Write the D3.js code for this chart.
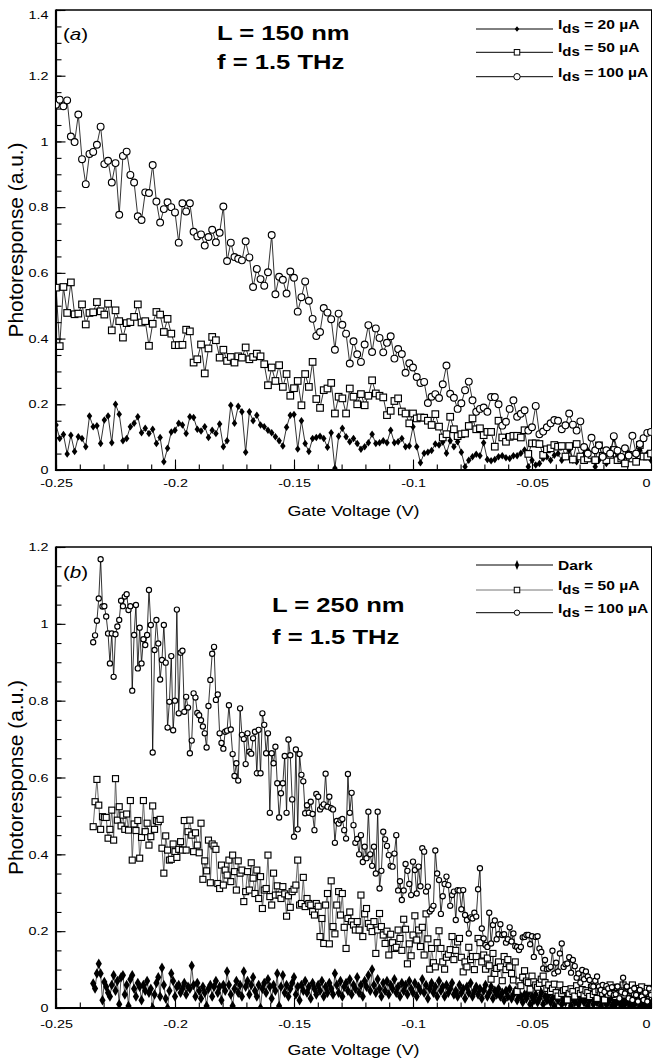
<!DOCTYPE html>
<html><head><meta charset="utf-8">
<script src="https://cdn.jsdelivr.net/npm/d3@7"></script>
<style>
html,body{margin:0;padding:0;background:#fff;}
svg{display:block;font-family:"Liberation Sans",Arial,Helvetica,sans-serif;}
</style></head><body>
<div id="chart"></div>
<script>
// ---------------- DATA ----------------
const xTickValues = [-0.25, -0.2, -0.15, -0.1, -0.05, 0];
const xTickLabels = ["-0.25", "-0.2", "-0.15", "-0.1", "-0.05", "0"];
const yTickValuesA = [0, 0.2, 0.4, 0.6, 0.8, 1, 1.2, 1.4];
const yTickLabelsA = ["0", "0.2", "0.4", "0.6", "0.8", "1", "1.2", "1.4"];
const yTickValuesB = [0, 0.2, 0.4, 0.6, 0.8, 1, 1.2];
const yTickLabelsB = ["0", "0.2", "0.4", "0.6", "0.8", "1", "1.2"];
const xTitle = "Gate Voltage (V)";
const yTitle = "Photoresponse (a.u.)";
const panelLabels = ["a", "b"];
const noteA = ["L = 150 nm", "f = 1.5 THz"];
const noteB = ["L = 250 nm", "f = 1.5 THz"];
const legendA = [["I", "ds", " = 20 µA"], ["I", "ds", " = 50 µA"], ["I", "ds", " = 100 µA"]];
const legendB = [["Dark", "", ""], ["I", "ds", " = 50 µA"], ["I", "ds", " = 100 µA"]];

// gate-voltage sampling grid of each panel (V)
const gateStartA = -0.25, gateStepA = 0.0015625;
const gateStartB = -0.234375, gateStepB = 0.00078125;

// panel (a): L = 150 nm
const photoA_20uA = [
0.137,0.096,0.108,0.049,0.106,0.056,0.101,0.096,0.071,0.164,
0.132,0.135,0.081,0.152,0.164,0.083,0.200,0.170,0.089,0.096,
0.132,0.142,0.162,0.113,0.127,0.111,0.124,0.081,0.099,0.025,
0.066,0.116,0.121,0.142,0.137,0.111,0.162,0.160,0.124,0.119,
0.132,0.099,0.121,0.111,0.140,0.071,0.089,0.197,0.142,0.194,
0.177,0.054,0.177,0.150,0.167,0.137,0.132,0.121,0.113,0.101,
0.089,0.073,0.130,0.167,0.169,0.064,0.150,0.081,0.056,0.096,
0.099,0.103,0.096,0.069,0.113,0.005,0.103,0.127,0.101,0.086,
0.096,0.081,0.063,0.071,0.083,0.109,0.081,0.083,0.089,0.083,
0.121,0.083,0.086,0.096,0.071,0.073,0.132,0.071,0.022,0.051,
0.054,0.059,0.079,0.076,0.085,0.051,0.089,0.071,0.086,0.054,
0.010,0.030,0.040,0.048,0.043,0.083,0.032,0.028,0.032,0.040,
0.043,0.037,0.035,0.043,0.043,0.051,0.061,0.010,0.030,0.015,
0.020,0.035,0.040,0.030,0.045,0.050,0.030,0.040,0.060,0.030,
0.025,0.040,0.050,0.060,0.035,0.010,0.030,0.045,0.020,0.050,
0.096,0.040,0.030,0.020,0.050,0.040,0.030,0.060,0.040,0.050,
0.030];
const photoA_50uA = [
0.555,0.377,0.557,0.478,0.571,0.474,0.476,0.504,0.443,0.478,
0.480,0.511,0.483,0.473,0.506,0.425,0.486,0.453,0.403,0.447,
0.450,0.466,0.504,0.449,0.453,0.378,0.445,0.481,0.473,0.420,
0.460,0.415,0.380,0.380,0.381,0.427,0.422,0.327,0.337,0.382,
0.294,0.370,0.405,0.395,0.342,0.366,0.332,0.344,0.327,0.346,
0.342,0.373,0.337,0.344,0.354,0.346,0.322,0.258,0.312,0.271,
0.319,0.253,0.292,0.226,0.249,0.271,0.197,0.292,0.253,0.329,
0.216,0.189,0.243,0.248,0.265,0.172,0.223,0.218,0.172,0.248,
0.223,0.200,0.231,0.197,0.226,0.273,0.233,0.226,0.221,0.167,
0.180,0.210,0.218,0.178,0.172,0.142,0.172,0.157,0.160,0.159,
0.150,0.137,0.170,0.132,0.099,0.109,0.162,0.124,0.103,0.109,
0.111,0.134,0.157,0.124,0.127,0.106,0.116,0.116,0.071,0.150,
0.099,0.086,0.101,0.104,0.104,0.099,0.121,0.049,0.081,0.081,
0.079,0.046,0.063,0.066,0.076,0.071,0.073,0.041,0.073,0.032,
0.079,0.041,0.030,0.035,0.046,0.030,0.075,0.043,0.030,0.046,
0.061,0.030,0.035,0.020,0.046,0.035,0.025,0.076,0.041,0.041,
0.050];
const photoA_100uA = [
1.112,1.127,1.107,1.125,1.015,0.998,1.082,0.946,0.870,0.962,
0.968,0.990,1.045,0.931,0.941,0.875,0.934,0.777,0.956,0.969,
0.898,0.875,0.772,0.761,0.845,0.843,0.928,0.817,0.753,0.794,
0.815,0.800,0.784,0.692,0.812,0.787,0.812,0.725,0.711,0.717,
0.683,0.709,0.731,0.693,0.722,0.802,0.636,0.692,0.648,0.643,
0.638,0.696,0.647,0.557,0.612,0.581,0.561,0.602,0.715,0.535,
0.588,0.579,0.537,0.604,0.585,0.482,0.526,0.574,0.515,0.460,
0.408,0.420,0.493,0.479,0.459,0.366,0.476,0.442,0.415,0.324,
0.392,0.352,0.329,0.382,0.441,0.359,0.431,0.402,0.358,0.387,
0.407,0.339,0.368,0.353,0.296,0.325,0.312,0.283,0.265,0.268,
0.204,0.223,0.231,0.219,0.261,0.318,0.232,0.220,0.186,0.203,
0.243,0.269,0.212,0.177,0.186,0.190,0.177,0.222,0.222,0.200,
0.135,0.147,0.186,0.212,0.162,0.171,0.182,0.120,0.130,0.195,
0.109,0.117,0.130,0.142,0.152,0.150,0.124,0.136,0.172,0.138,
0.120,0.148,0.070,0.050,0.098,0.060,0.075,0.040,0.060,0.050,
0.103,0.059,0.040,0.066,0.044,0.104,0.050,0.079,0.097,0.113,
0.116];

// panel (b): L = 250 nm
const photoB_dark = [
0.064,0.051,0.090,0.115,0.090,0.020,0.068,0.055,0.040,0.030,
0.060,0.085,0.045,0.070,0.010,0.080,0.085,0.035,0.060,0.005,
0.075,0.085,0.050,0.030,0.065,0.055,0.020,0.060,0.045,0.070,
0.040,0.050,0.000,0.035,0.065,0.080,0.030,0.105,0.060,0.025,
0.000,0.045,0.090,0.070,0.030,0.055,0.060,0.040,0.050,0.065,
0.035,0.055,0.050,0.110,0.060,0.030,0.065,0.045,0.025,0.055,
0.040,0.005,0.050,0.060,0.030,0.055,0.070,0.040,0.055,0.020,
0.060,0.045,0.095,0.060,0.035,0.005,0.050,0.070,0.040,0.060,
0.030,0.095,0.055,0.070,0.035,0.060,0.080,0.045,0.030,0.060,
0.000,0.050,0.065,0.040,0.075,0.055,0.025,0.060,0.045,0.090,
0.005,0.055,0.085,0.040,0.060,0.030,0.050,0.065,0.080,0.035,
0.055,0.020,0.060,0.045,0.070,0.040,0.055,0.025,0.065,0.050,
0.035,0.060,0.045,0.070,0.030,0.055,0.040,0.065,0.050,0.035,
0.090,0.060,0.040,0.070,0.030,0.055,0.065,0.045,0.075,0.035,
0.060,0.050,0.080,0.040,0.060,0.030,0.070,0.055,0.085,0.045,
0.100,0.060,0.040,0.075,0.050,0.030,0.065,0.045,0.070,0.035,
0.060,0.050,0.075,0.040,0.055,0.030,0.065,0.045,0.060,0.035,
0.070,0.050,0.040,0.065,0.030,0.055,0.045,0.075,0.040,0.060,
0.025,0.050,0.065,0.040,0.055,0.030,0.070,0.045,0.055,0.030,
0.060,0.040,0.050,0.065,0.035,0.045,0.030,0.060,0.040,0.050,
0.025,0.055,0.040,0.065,0.030,0.045,0.055,0.035,0.050,0.025,
0.045,0.060,0.030,0.040,0.055,0.025,0.045,0.035,0.050,0.030,
0.040,0.020,0.045,0.030,0.050,0.025,0.035,0.045,0.020,0.035,
0.030,0.015,0.035,0.025,0.040,0.010,0.030,0.020,0.035,0.015,
0.025,0.040,0.010,0.030,0.020,0.035,0.015,0.025,0.005,0.030,
0.020,0.035,0.010,0.025,0.015,0.030,0.020,0.005,0.025,0.015,
0.030,0.010,0.020,0.035,0.015,0.025,0.005,0.020,0.030,0.010,
0.020,0.015,0.025,0.005,0.020,0.030,0.010,0.015,0.025,0.005,
0.020,0.010,0.025,0.015,0.005,0.020,0.010,0.025,0.015,0.005,
0.020,0.010,0.015,0.025,0.005,0.015,0.010,0.020,0.005,0.015,
0.010];
const photoB_50uA = [
0.472,0.537,0.595,0.528,0.465,0.498,0.496,0.496,0.442,0.465,
0.515,0.437,0.597,0.489,0.524,0.474,0.502,0.465,0.505,0.463,
0.540,0.385,0.479,0.462,0.488,0.390,0.444,0.540,0.459,0.481,
0.424,0.446,0.526,0.465,0.488,0.485,0.491,0.416,0.351,0.448,
0.411,0.385,0.387,0.427,0.407,0.392,0.413,0.433,0.411,0.488,
0.411,0.459,0.489,0.450,0.407,0.456,0.424,0.404,0.481,0.335,
0.383,0.357,0.437,0.326,0.427,0.422,0.413,0.324,0.311,0.372,
0.320,0.359,0.346,0.385,0.329,0.398,0.355,0.307,0.383,0.351,
0.359,0.277,0.303,0.355,0.307,0.378,0.338,0.298,0.359,0.285,
0.342,0.259,0.307,0.311,0.398,0.290,0.268,0.351,0.294,0.318,
0.294,0.285,0.316,0.297,0.239,0.292,0.262,0.303,0.309,0.320,
0.385,0.268,0.272,0.340,0.264,0.285,0.272,0.268,0.251,0.242,
0.272,0.265,0.186,0.233,0.168,0.268,0.298,0.167,0.331,0.212,
0.193,0.268,0.303,0.242,0.298,0.210,0.155,0.233,0.250,0.225,
0.216,0.203,0.225,0.203,0.294,0.186,0.245,0.259,0.220,0.210,
0.199,0.225,0.142,0.203,0.246,0.212,0.190,0.168,0.200,0.138,
0.192,0.170,0.155,0.158,0.203,0.181,0.150,0.231,0.205,0.115,
0.167,0.136,0.190,0.240,0.177,0.203,0.160,0.210,0.138,0.245,
0.180,0.101,0.155,0.118,0.107,0.170,0.201,0.155,0.120,0.101,
0.132,0.140,0.152,0.186,0.126,0.150,0.172,0.181,0.132,0.094,
0.120,0.107,0.158,0.126,0.134,0.100,0.134,0.181,0.170,0.120,
0.138,0.101,0.130,0.110,0.075,0.142,0.090,0.103,0.120,0.107,
0.071,0.134,0.100,0.126,0.107,0.090,0.073,0.120,0.043,0.070,
0.058,0.080,0.097,0.070,0.066,0.049,0.083,0.068,0.060,0.054,
0.064,0.075,0.083,0.066,0.051,0.060,0.043,0.051,0.062,0.040,
0.031,0.060,0.038,0.045,0.048,0.021,0.038,0.050,0.043,0.031,
0.058,0.045,0.038,0.048,0.034,0.045,0.040,0.030,0.054,0.035,
0.043,0.025,0.047,0.040,0.038,0.021,0.040,0.036,0.060,0.047,
0.038,0.030,0.054,0.038,0.045,0.060,0.034,0.051,0.040,0.045,
0.060,0.038,0.051,0.040,0.045,0.055,0.042,0.038,0.051,0.038,
0.045];
const photoB_100uA = [
0.952,0.970,1.008,1.066,1.168,1.045,1.046,1.019,0.975,0.897,
0.975,0.862,0.973,0.993,1.010,1.060,1.046,1.071,1.077,1.036,
1.046,0.826,0.971,1.049,0.884,0.990,0.897,0.960,0.945,0.971,
1.088,0.997,0.665,0.932,1.010,0.949,0.855,0.906,0.997,0.899,
0.730,0.797,0.916,0.723,0.800,1.037,0.767,0.925,0.930,0.771,
0.810,0.782,0.663,0.696,0.819,0.808,0.768,0.762,0.749,0.733,
0.715,0.678,0.786,0.854,0.922,0.940,0.802,0.816,0.715,0.690,
0.675,0.719,0.722,0.788,0.725,0.661,0.604,0.637,0.592,0.780,
0.711,0.700,0.635,0.715,0.667,0.662,0.702,0.719,0.611,0.724,
0.611,0.767,0.737,0.663,0.715,0.508,0.663,0.637,0.680,0.585,
0.496,0.559,0.585,0.656,0.508,0.699,0.658,0.543,0.446,0.673,
0.465,0.661,0.607,0.590,0.507,0.528,0.508,0.537,0.505,0.463,
0.557,0.550,0.517,0.524,0.530,0.610,0.524,0.550,0.520,0.517,
0.430,0.487,0.480,0.489,0.492,0.463,0.441,0.609,0.508,0.560,
0.476,0.430,0.440,0.400,0.450,0.380,0.420,0.390,0.511,0.400,
0.370,0.420,0.350,0.511,0.311,0.357,0.459,0.439,0.422,0.398,
0.370,0.368,0.402,0.450,0.306,0.330,0.281,0.306,0.375,0.357,
0.323,0.294,0.381,0.359,0.298,0.368,0.317,0.416,0.407,0.303,
0.316,0.251,0.257,0.266,0.410,0.350,0.333,0.245,0.291,0.323,
0.342,0.320,0.266,0.294,0.303,0.229,0.307,0.306,0.257,0.307,
0.242,0.229,0.194,0.236,0.233,0.248,0.238,0.309,0.364,0.207,
0.181,0.164,0.159,0.248,0.168,0.216,0.228,0.179,0.192,0.218,
0.190,0.192,0.170,0.179,0.210,0.173,0.194,0.161,0.159,0.151,
0.159,0.184,0.185,0.190,0.190,0.166,0.187,0.133,0.185,0.187,
0.155,0.146,0.103,0.125,0.101,0.103,0.107,0.149,0.090,0.118,
0.095,0.142,0.168,0.107,0.114,0.116,0.132,0.092,0.125,0.109,
0.079,0.090,0.066,0.099,0.075,0.095,0.082,0.073,0.057,0.056,
0.071,0.082,0.056,0.047,0.060,0.042,0.057,0.051,0.038,0.054,
0.034,0.036,0.056,0.025,0.042,0.079,0.038,0.056,0.025,0.045,
0.021,0.051,0.034,0.017,0.047,0.030,0.021,0.040,0.017,0.051,
0.034];

// ---------------- DRAWING ----------------
const W = 653, H = 1064;
const svg = d3.select("#chart").append("svg").attr("width", W).attr("height", H);
const K = 1.25; // horizontal stretch of the original lettering

function stretchedText(g, x, y, str, size, anchor, weight) {
  return g.append("text")
    .attr("transform", `translate(${x},${y}) scale(${K},1)`)
    .attr("text-anchor", anchor || "start")
    .attr("font-size", size)
    .attr("font-weight", weight || "normal")
    .attr("fill", "#000")
    .text(str);
}

function diamondPath(w, h) { return `M0,${-h/2}L${w/2},0L0,${h/2}L${-w/2},0Z`; }

function drawPanel(cfg) {
  const g = svg.append("g");
  const x = d3.scaleLinear().domain([-0.25, 0]).range([56, 651]);
  const y = d3.scaleLinear().domain([0, cfg.ymax]).range([cfg.bottom, cfg.top]);

  // clip
  const clipId = "clip" + cfg.id;
  svg.append("defs").append("clipPath").attr("id", clipId)
    .append("rect").attr("x", 56).attr("y", cfg.top).attr("width", 595.5).attr("height", cfg.bottom - cfg.top);

  // minor x ticks
  const xMinor = d3.range(0, 26).map(i => -0.25 + i * 0.01);
  const ax1 = g.append("g").attr("transform", `translate(0,${cfg.bottom})`)
    .call(d3.axisBottom(x).tickValues(xMinor).tickSizeInner(-5.5).tickSizeOuter(0).tickFormat(""));
  const ax2 = g.append("g").attr("transform", `translate(0,${cfg.bottom})`)
    .call(d3.axisBottom(x).tickValues(xTickValues).tickSizeInner(-10.5).tickSizeOuter(0)
      .tickPadding(cfg.xPad).tickFormat((d, i) => xTickLabels[i]));
  // y ticks
  const yMinor = d3.range(0, Math.round(cfg.ymax / 0.05) + 1).map(i => i * 0.05);
  const ay1 = g.append("g").attr("transform", `translate(56,0)`)
    .call(d3.axisLeft(y).tickValues(yMinor).tickSizeInner(-5.5).tickSizeOuter(0).tickFormat(""));
  const ay2 = g.append("g").attr("transform", `translate(56,0)`)
    .call(d3.axisLeft(y).tickValues(cfg.yTicks).tickSizeInner(-9.5).tickSizeOuter(0)
      .tickPadding(6).tickFormat((d, i) => cfg.yLabels[i]));
  [ax1, ax2, ay1, ay2].forEach(a => {
    a.attr("font-size", null).attr("font-family", null);
    a.select(".domain").remove();
    a.selectAll("line").attr("stroke", "#000").attr("stroke-width", 1.1);
    a.selectAll("text").attr("font-size", 11.5).attr("fill", "#000");
  });
  ax2.selectAll("text").attr("transform", `scale(${K},1)`);
  // keep the last label ("0") inside the page edge
  ax2.selectAll("text").filter(d => d === 0).attr("text-anchor", "end").attr("x", -0.8);
  ay2.selectAll("text").attr("transform", `scale(${K},1)`);
  if (cfg.topLabelShift) {
    ay2.selectAll("text").filter(d => d === cfg.ymax).attr("transform", `translate(0,${cfg.topLabelShift}) scale(${K},1)`);
  }

  // frame
  g.append("line").attr("x1", 56).attr("x2", 652).attr("y1", cfg.top).attr("y2", cfg.top).attr("stroke", "#000").attr("stroke-width", 1.3);
  g.append("line").attr("x1", 651.5).attr("x2", 651.5).attr("y1", cfg.top).attr("y2", cfg.bottom).attr("stroke", "#000").attr("stroke-width", 1);
  g.append("line").attr("x1", 56).attr("x2", 56).attr("y1", cfg.top - 0.6).attr("y2", cfg.bottom + 1).attr("stroke", "#000").attr("stroke-width", 2.2);
  g.append("line").attr("x1", 55).attr("x2", 652).attr("y1", cfg.bottom).attr("y2", cfg.bottom).attr("stroke", "#000").attr("stroke-width", 2.2);

  // data
  const plot = g.append("g").attr("clip-path", `url(#${clipId})`);
  cfg.series.forEach(s => {
    const xv = i => x(cfg.start + i * cfg.step);
    plot.append("path").datum(s.values)
      .attr("d", d3.line().x((d, i) => xv(i)).y(d => y(d)))
      .attr("fill", "none").attr("stroke", s.lineColor).attr("stroke-width", 0.8);
    const mk = plot.append("g");
    if (s.marker === "circle") {
      mk.selectAll("circle").data(s.values).join("circle")
        .attr("cx", (d, i) => xv(i)).attr("cy", d => y(d)).attr("r", s.size)
        .attr("fill", "#fff").attr("stroke", "#000").attr("stroke-width", 1.15);
    } else if (s.marker === "square") {
      mk.selectAll("rect").data(s.values).join("rect")
        .attr("x", (d, i) => xv(i) - s.size / 2).attr("y", d => y(d) - s.size / 2)
        .attr("width", s.size).attr("height", s.size)
        .attr("fill", "#fff").attr("stroke", "#000").attr("stroke-width", 1.15);
    } else {
      mk.selectAll("path").data(s.values).join("path")
        .attr("d", diamondPath(s.size, s.size2))
        .attr("transform", (d, i) => `translate(${xv(i)},${y(d)})`)
        .attr("fill", "#000");
    }
  });

  // legend
  cfg.legend.forEach((L, k) => {
    const ly = cfg.legendY[k];
    const s = cfg.series[k];
    g.append("line").attr("x1", 476).attr("x2", 553).attr("y1", ly).attr("y2", ly)
      .attr("stroke", s.legendLine).attr("stroke-width", 1);
    if (s.marker === "circle") {
      g.append("circle").attr("cx", 517).attr("cy", ly).attr("r", s.legendSize)
        .attr("fill", "#fff").attr("stroke", "#000").attr("stroke-width", 1);
    } else if (s.marker === "square") {
      g.append("rect").attr("x", 517 - s.legendSize / 2).attr("y", ly - s.legendSize / 2)
        .attr("width", s.legendSize).attr("height", s.legendSize)
        .attr("fill", "#fff").attr("stroke", "#000").attr("stroke-width", 1);
    } else {
      g.append("path").attr("d", diamondPath(s.legendSize, s.legendSize2))
        .attr("transform", `translate(517,${ly})`).attr("fill", "#000");
    }
    const t = g.append("text")
      .attr("transform", `translate(558,${ly + (L[1] ? 0 : 5)}) scale(1.2,1)`)
      .attr("font-size", 13).attr("font-weight", "bold").attr("fill", "#000");
    t.append("tspan").text(L[0]);
    if (L[1]) {
      t.append("tspan").attr("dy", 4).attr("font-size", 12.5).text(L[1]);
      t.append("tspan").attr("dy", -4).text(L[2]);
    }
  });

  // annotations
  const pl = g.append("text")
    .attr("transform", `translate(63,${cfg.labelY}) scale(${K},1)`)
    .attr("font-size", 16.5).attr("fill", "#000");
  pl.append("tspan").text("(");
  pl.append("tspan").attr("font-style", "italic").text(cfg.label);
  pl.append("tspan").text(")");
  stretchedText(g, cfg.noteX, cfg.noteY[0], cfg.note[0], 20.5, "start", "bold");
  stretchedText(g, cfg.noteX, cfg.noteY[1], cfg.note[1], 20.5, "start", "bold");

  // axis titles
  stretchedText(g, 353.5, cfg.xTitleY, xTitle, 14.3, "middle");
  g.append("text")
    .attr("transform", `translate(22.5,${(cfg.top + cfg.bottom) / 2}) rotate(-90) scale(1.13,1.1)`)
    .attr("text-anchor", "middle").attr("font-size", 18.5).attr("fill", "#000")
    .text(yTitle);
}

drawPanel({
  id: "A", top: 10, bottom: 470, ymax: 1.4, xPad: 9,
  yTicks: yTickValuesA, yLabels: yTickLabelsA, topLabelShift: 4.5,
  start: gateStartA, step: gateStepA,
  series: [
    { values: photoA_20uA, marker: "diamond", size: 5.5, size2: 7.5, lineColor: "#000", legendLine: "#000", legendSize: 4.5, legendSize2: 5.5 },
    { values: photoA_50uA, marker: "square", size: 6.6, lineColor: "#000", legendLine: "#000", legendSize: 5.5 },
    { values: photoA_100uA, marker: "circle", size: 3.4, lineColor: "#000", legendLine: "#000", legendSize: 3.2 }
  ],
  legend: legendA, legendY: [29, 52.3, 76.7],
  label: panelLabels[0], labelY: 40, note: noteA, noteX: 217, noteY: [39.5, 68.5],
  xTitleY: 515.5
});
drawPanel({
  id: "B", top: 547, bottom: 1008, ymax: 1.2, xPad: 12,
  yTicks: yTickValuesB, yLabels: yTickLabelsB, topLabelShift: 0,
  start: gateStartB, step: gateStepB,
  series: [
    { values: photoB_dark, marker: "diamond", size: 6.2, size2: 10.5, lineColor: "#222", legendLine: "#000", legendSize: 4.2, legendSize2: 10 },
    { values: photoB_50uA, marker: "square", size: 6, lineColor: "#444", legendLine: "#777", legendSize: 5.5 },
    { values: photoB_100uA, marker: "circle", size: 2.6, lineColor: "#000", legendLine: "#000", legendSize: 2.7 }
  ],
  legend: legendB, legendY: [565, 590, 612.7],
  label: panelLabels[1], labelY: 578, note: noteB, noteX: 272, noteY: [611.5, 643.5],
  xTitleY: 1054.5
});
</script>
</body></html>
